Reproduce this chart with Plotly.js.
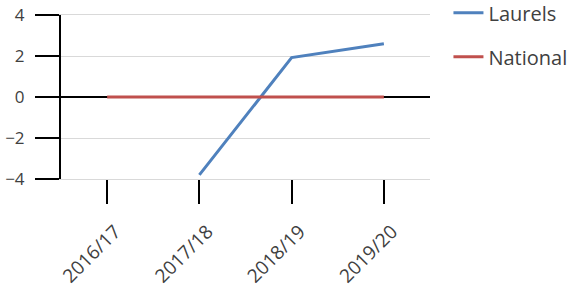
<!DOCTYPE html>
<html>
<head>
<meta charset="utf-8">
<script src="https://cdn.plot.ly/plotly-3.0.1.min.js"></script>
<style>html,body{margin:0;padding:0;background:#fff;}#chart{width:573px;height:291px;}</style>
</head>
<body>
<div id="chart"></div>
<script>
const categories = ["2016/17", "2017/18", "2018/19", "2019/20"];
const laurelsX = ["2017/18", "2018/19", "2019/20"];
const laurelsValues = [-3.8, 1.92, 2.6];
const nationalValues = [0, 0, 0, 0];
const yTicks = [-4, -2, 0, 2, 4];

const font = "Open Sans, Noto Sans, sans-serif";

const traces = [
  {x: laurelsX, y: laurelsValues, name: "Laurels", type: "scatter", mode: "lines",
   line: {color: "#4F81BD", width: 3}, legendgroup: "a"},
  {x: categories, y: nationalValues, name: "National", type: "scatter", mode: "lines",
   line: {color: "#C0504D", width: 3}, legendgroup: "b"}
];

const layout = {
  width: 573, height: 291,
  margin: {l: 61, r: 143, t: 15, b: 112, pad: 0, autoexpand: false},
  paper_bgcolor: "#fff", plot_bgcolor: "#fff",
  font: {family: font, size: 13, color: "#404040"},
  showlegend: true,
  legend: {x: 1.05, y: 1.133, xanchor: "left", yanchor: "top",
           font: {family: font, size: 20, color: "#404040"},
           tracegroupgap: 15, traceorder: "grouped", bgcolor: "rgba(0,0,0,0)"},
  xaxis: {type: "category", categoryarray: categories, range: [-0.5, 3.5],
          showgrid: false, showline: true, mirror: true, linecolor: "#d9d9d9", linewidth: 1,
          zeroline: false,
          ticks: "outside", ticklen: 24, tickcolor: "#000", tickwidth: 2,
          ticklabelstandoff: 9, ticklabelshift: 8,
          tickangle: -45, tickfont: {family: font, size: 19, color: "#404040"}},
  yaxis: {range: [-4, 4], tickvals: yTicks, showgrid: true, gridcolor: "#d9d9d9",
          zeroline: true, zerolinecolor: "#000", zerolinewidth: 1.5,
          showline: true, linecolor: "#000", linewidth: 2,
          ticks: "outside", ticklen: 24, tickcolor: "#000", tickwidth: 2,
          ticklabelstandoff: 7,
          tickfont: {family: font, size: 17, color: "#404040"}}
};

Plotly.newPlot("chart", traces, layout, {displayModeBar: false, staticPlot: true});
</script>
</body>
</html>
